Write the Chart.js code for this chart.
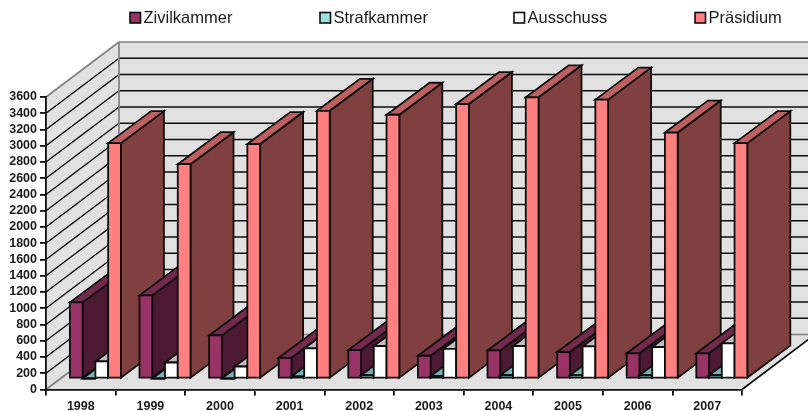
<!DOCTYPE html>
<html>
<head>
<meta charset="utf-8">
<script src="https://cdn.jsdelivr.net/npm/chart.js@4"></script>
<style>
  html, body { margin: 0; padding: 0; background: #fff; }
  #wrap { width: 808px; height: 411px; }
</style>
</head>
<body>
<div id="wrap"><canvas id="chart"></canvas></div>
<script>
const years = ["1998", "1999", "2000", "2001", "2002", "2003", "2004", "2005", "2006", "2007"];

const zivilkammer = [937, 1023, 530, 255, 350, 280, 345, 325, 310, 310];
const strafkammer = [0, 0, 0, 25, 40, 30, 40, 40, 40, 40];
const ausschuss = [210, 197, 148, 370, 400, 365, 400, 395, 388, 432];
const praesidium = [2897, 2638, 2885, 3295, 3246, 3378, 3461, 3432, 3027, 2897];

const seriesNames = ["Zivilkammer", "Strafkammer", "Ausschuss", "Präsidium"];
const legendLeft = [130, 320, 514, 695];

// front, side, top face of each series
const faces = [
  ["#993366", "#4d1a33", "#732a4d"],
  ["#99e0e0", "#4d8080", "#73b3b3"],
  ["#ffffff", "#808080", "#bfbfbf"],
  ["#ff8080", "#804040", "#bf6060"],
];

const WALL_DX = 73;
const WALL_DY = -55;
const FRONT_DX = 14.6;
const FRONT_DY = -11;
const BAR_DX = 43;
const BAR_DY = -32;
const INK = "#0d0d0d";

function poly(c, pts, fill, stroke, lw) {
  c.beginPath();
  pts.forEach((p, i) => (i ? c.lineTo(p[0], p[1]) : c.moveTo(p[0], p[1])));
  c.closePath();
  if (fill) {
    c.fillStyle = fill;
    c.fill();
  }
  if (stroke) {
    c.lineWidth = lw;
    c.lineJoin = "miter";
    c.strokeStyle = stroke;
    c.stroke();
  }
}

function line(c, x1, y1, x2, y2, color, lw) {
  c.beginPath();
  c.moveTo(x1, y1);
  c.lineTo(x2, y2);
  c.strokeStyle = color;
  c.lineWidth = lw;
  c.stroke();
}

// walls, floor and gridlines of the 3d box
const boxPlugin = {
  id: "box",
  beforeDraw(chart) {
    const c = chart.ctx;
    const { left, right, top, bottom } = chart.chartArea;
    const backL = left + WALL_DX;
    const backR = right + WALL_DX;
    const gray = "#808080";

    c.save();
    poly(c, [[backL, top + WALL_DY], [backR, top + WALL_DY], [backR, bottom + WALL_DY], [backL, bottom + WALL_DY]], "#e1e1e1");
    poly(c, [[left, top], [backL, top + WALL_DY], [backL, bottom + WALL_DY], [left, bottom]], "#e1e1e1");
    poly(c, [[left, bottom], [right, bottom], [backR, bottom + WALL_DY], [backL, bottom + WALL_DY]], "#e1e1e1");

    chart.scales.y.ticks.forEach((t) => {
      if (t.value === 0 || t.value === 3600) return;
      const y = chart.scales.y.getPixelForValue(t.value);
      line(c, left, y, backL, y + WALL_DY, INK, 1.5);
      line(c, backL, y + WALL_DY, backR, y + WALL_DY, INK, 1.5);
    });

    line(c, left, top, backL, top + WALL_DY, gray, 1.7);
    line(c, backL, top + WALL_DY, backR, top + WALL_DY, gray, 1.7);
    line(c, backL, top + WALL_DY, backL, bottom + WALL_DY, gray, 1.7);
    line(c, left, bottom, backL, bottom + WALL_DY, gray, 1.7);
    line(c, backL, bottom + WALL_DY, backR, bottom + WALL_DY, gray, 1.7);
    line(c, right, bottom, backR, bottom + WALL_DY, INK, 1.7);
    c.restore();
  },
};

// bars have to be painted left to right across datasets so the faces overlap properly
const bars3dPlugin = {
  id: "bars3d",
  beforeDatasetsDraw(chart) {
    const c = chart.ctx;
    c.save();
    years.forEach((_, i) => {
      chart.data.datasets.forEach((ds, di) => {
        const bar = chart.getDatasetMeta(di).data[i];
        const x0 = bar.x - bar.width / 2 + FRONT_DX;
        const x1 = bar.x + bar.width / 2 + FRONT_DX;
        const yTop = bar.y + FRONT_DY;
        const yBase = bar.base + FRONT_DY;
        const f = faces[di];
        poly(c, [[x1, yTop], [x1 + BAR_DX, yTop + BAR_DY], [x1 + BAR_DX, yBase + BAR_DY], [x1, yBase]], f[1], INK, 1.8);
        poly(c, [[x0, yTop], [x0 + BAR_DX, yTop + BAR_DY], [x1 + BAR_DX, yTop + BAR_DY], [x1, yTop]], f[2], INK, 1.8);
        poly(c, [[x0, yTop], [x1, yTop], [x1, yBase], [x0, yBase]], f[0], INK, 1.8);
      });
    });
    c.restore();
    return false;
  },
};

// legend entries are not evenly spaced in the original, so it is drawn by hand
const legendPlugin = {
  id: "topLegend",
  afterDraw(chart) {
    const c = chart.ctx;
    c.save();
    c.font = '16.5px "Liberation Sans"';
    c.textBaseline = "middle";
    seriesNames.forEach((name, i) => {
      c.strokeStyle = INK;
      c.lineWidth = 1.6;
      c.fillStyle = faces[i][0];
      c.fillRect(legendLeft[i], 12.5, 10.5, 10.5);
      c.strokeRect(legendLeft[i], 12.5, 10.5, 10.5);
      c.fillStyle = "#1a1a1a";
      c.fillText(name, legendLeft[i] + 13.5, 18);
    });
    c.restore();
  },
};

new Chart(document.getElementById("chart"), {
  type: "bar",
  data: {
    labels: years,
    datasets: [
      { label: seriesNames[0], data: zivilkammer, backgroundColor: faces[0][0] },
      { label: seriesNames[1], data: strafkammer, backgroundColor: faces[1][0] },
      { label: seriesNames[2], data: ausschuss, backgroundColor: faces[2][0] },
      { label: seriesNames[3], data: praesidium, backgroundColor: faces[3][0] },
    ],
  },
  plugins: [boxPlugin, bars3dPlugin, legendPlugin],
  options: {
    responsive: true,
    maintainAspectRatio: false,
    animation: false,
    layout: { padding: { top: 97, right: 66, left: 0, bottom: 0 } },
    datasets: { bar: { categoryPercentage: 0.733, barPercentage: 1 } },
    plugins: {
      legend: { display: false },
      tooltip: { enabled: false },
    },
    scales: {
      x: {
        afterFit(scale) {
          scale.height = 21.5;
        },
        grid: { drawOnChartArea: false, color: INK, tickLength: 6, lineWidth: 1.8 },
        border: { color: INK, width: 1.8 },
        ticks: {
          color: "#1a1a1a",
          padding: 4,
          maxRotation: 0,
          font: { family: '"Liberation Sans"', size: 12.5, weight: "bold" },
        },
      },
      y: {
        min: 0,
        max: 3600,
        afterFit(scale) {
          scale.width = 46;
        },
        grid: { drawOnChartArea: false, color: INK, tickLength: 6, lineWidth: 1.8 },
        border: { color: INK, width: 1.8 },
        ticks: {
          stepSize: 200,
          autoSkip: false,
          color: "#1a1a1a",
          padding: 3,
          font: { family: '"Liberation Sans"', size: 12.5, weight: "bold" },
          callback: (v) => String(v),
        },
      },
    },
  },
});
</script>
</body>
</html>
